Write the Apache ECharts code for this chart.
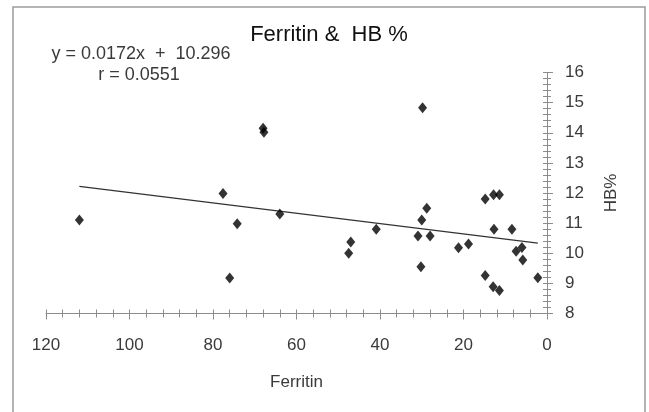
<!DOCTYPE html>
<html lang="en">
<head>
    <meta charset="UTF-8">
    <title>Ferritin & HB %</title>
    <script src="https://cdn.jsdelivr.net/npm/echarts@6/dist/echarts.min.js"></script>
    <style>
        body { margin: 0; background: #fff; }
    </style>
</head>
<body>
    <div id="main" style="width: 649px;height: 412px;"></div>
    <script>
        // readings
        var ferritin = [112, 77.6, 76, 74.2, 68, 67.8, 64, 47.5, 47, 40.9, 30.9, 30.2, 30, 29.8, 28.8, 28, 21.2, 18.8, 14.8, 14.8, 12.8, 12.7, 12.9, 11.4, 11.4, 8.4, 7.4, 6, 5.8, 2.2];
        var hb = [11.1, 11.98, 9.18, 10.98, 14.15, 14.02, 11.3, 10.0, 10.37, 10.8, 10.57, 9.55, 11.1, 14.83, 11.49, 10.57, 10.18, 10.31, 11.8, 9.26, 11.94, 10.8, 8.89, 11.94, 8.76, 10.8, 10.07, 10.19, 9.78, 9.19];
        var xTicks = [0, 20, 40, 60, 80, 100, 120];
        var yTicks = [8, 9, 10, 11, 12, 13, 14, 15, 16];
        var slope = 0.0172, intercept = 10.296;
        var eqText = 'y = 0.0172x  +  10.296';
        var rText = 'r = 0.0551';

        var points = [];
        for (var i = 0; i < ferritin.length; i++) {
            points.push([ferritin[i], hb[i]]);
        }
        // trendline runs over the data range only
        var xMin = Math.min.apply(null, ferritin);
        var xMax = Math.max.apply(null, ferritin);
        var trend = [[xMin, slope * xMin + intercept], [xMax, slope * xMax + intercept]];

        var axisGrey = '#8c8c8c';
        var textGrey = '#3a3a3a';
        var font = 'Arial, "Liberation Sans", sans-serif';

        // ticks cross the axis line: one axis draws them outside, a twin draws them inside
        function xAxis(inside) {
            return {
                type: 'value',
                min: xTicks[0],
                max: xTicks[xTicks.length - 1],
                interval: 20,
                inverse: true,
                position: 'bottom',
                name: inside ? '' : 'Ferritin',
                nameLocation: 'middle',
                nameGap: 60,
                nameTextStyle: { color: textGrey, fontSize: 17, fontFamily: font },
                axisLine: { show: !inside, onZero: false, lineStyle: { color: axisGrey, width: 1 } },
                axisTick: { show: true, inside: inside, length: inside ? 4 : 6, lineStyle: { color: axisGrey } },
                minorTick: { show: true, splitNumber: 5, length: 4, lineStyle: { color: axisGrey } },
                axisLabel: { show: !inside, color: textGrey, fontSize: 17, fontFamily: font, margin: 23 },
                splitLine: { show: false }
            };
        }
        function yAxis(inside) {
            return {
                type: 'value',
                min: yTicks[0],
                max: yTicks[yTicks.length - 1],
                interval: 1,
                position: 'right',
                name: inside ? '' : 'HB%',
                nameLocation: 'middle',
                nameGap: 56,
                nameTextStyle: { color: textGrey, fontSize: 17, fontFamily: font },
                axisLine: { show: !inside, onZero: false, lineStyle: { color: axisGrey, width: 1 } },
                axisTick: { show: true, inside: inside, length: inside ? 4 : 6, lineStyle: { color: axisGrey } },
                minorTick: { show: true, splitNumber: 5, length: 4, lineStyle: { color: axisGrey } },
                axisLabel: { show: !inside, color: textGrey, fontSize: 17, fontFamily: font, margin: 18 },
                splitLine: { show: false }
            };
        }

        var myChart = echarts.init(document.getElementById('main'));
        var option = {
            animation: false,
            backgroundColor: '#fff',
            grid: { left: 46, right: 102, top: 72.5, bottom: 98.5 },
            xAxis: [xAxis(false), xAxis(true)],
            yAxis: [yAxis(false), yAxis(true)],
            graphic: [
                {
                    type: 'rect',
                    shape: { x: 13, y: 7, width: 632, height: 420 },
                    style: { fill: 'none', stroke: '#9c9c9c', lineWidth: 1.5 },
                    silent: true
                },
                {
                    type: 'text', x: 329, y: 35,
                    style: { text: 'Ferritin &  HB %', fill: '#111', fontSize: 22, fontFamily: font, align: 'center', verticalAlign: 'middle' }
                },
                {
                    type: 'text', x: 141, y: 54,
                    style: { text: eqText, fill: textGrey, fontSize: 18, fontFamily: font, align: 'center', verticalAlign: 'middle' }
                },
                {
                    type: 'text', x: 139, y: 75,
                    style: { text: rText, fill: textGrey, fontSize: 18, fontFamily: font, align: 'center', verticalAlign: 'middle' }
                }
            ],
            series: [
                {
                    type: 'line',
                    data: trend,
                    symbol: 'none',
                    silent: true,
                    lineStyle: { color: '#333', width: 1.3 },
                    z: 1
                },
                {
                    type: 'scatter',
                    data: points,
                    symbol: 'diamond',
                    symbolSize: [9, 11],
                    itemStyle: { color: '#000' },
                    z: 2
                }
            ]
        };
        myChart.setOption(option);
    </script>
</body>
</html>
